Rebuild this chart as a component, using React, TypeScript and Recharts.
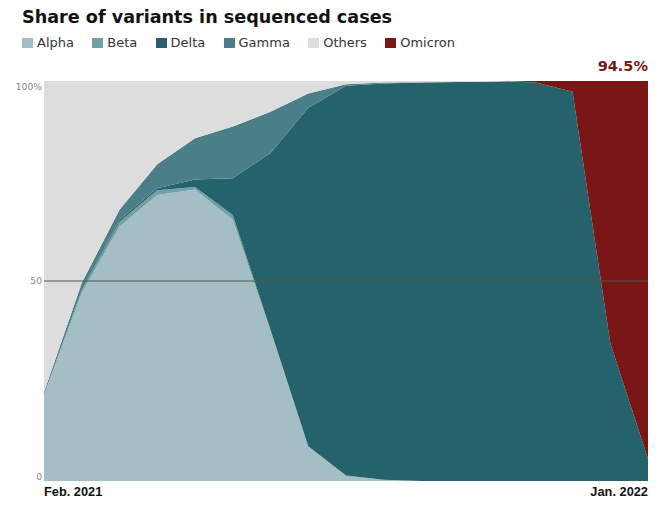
import { AreaChart, Area, XAxis, YAxis, ReferenceLine, LabelList } from 'recharts';

// one point every three weeks, Feb. 2021 -> Jan. 2022
const weeks = [
  '2021-02-01', '2021-02-22', '2021-03-15', '2021-04-05', '2021-04-26', '2021-05-17',
  '2021-06-07', '2021-06-28', '2021-07-19', '2021-08-09', '2021-08-30', '2021-09-20',
  '2021-10-11', '2021-11-01', '2021-11-22', '2021-12-13', '2022-01-03',
];

// share of sequenced cases, %
const alpha = [21.3, 47, 63.6, 71.5, 72.9, 65.3, 37.5, 8.6, 1.4, 0.3, 0, 0, 0, 0, 0, 0, 0];
const beta = [0.3, 0.6, 1.2, 1.2, 0.6, 1.2, 0.3, 0.1, 0, 0, 0, 0, 0, 0, 0, 0, 0];
const delta = [0, 0.1, 0.5, 0.5, 1.9, 9.2, 44.2, 84.6, 97.4, 99.1, 99.6, 99.75, 99.9, 99.7, 97.3, 34.5, 5.5];
const gamma = [0.6, 1.8, 2.5, 6, 10.3, 12.9, 10.3, 3.6, 0.4, 0.2, 0.1, 0, 0, 0, 0, 0, 0];
const others = [77.8, 50.5, 32.2, 20.8, 14.3, 11.4, 7.7, 3.1, 0.8, 0.4, 0.3, 0.25, 0.1, 0, 0, 0, 0];
const omicron = [0, 0, 0, 0, 0, 0, 0, 0, 0, 0, 0, 0, 0, 0.3, 2.7, 65.5, 94.5];

const xTickLabels = ['Feb. 2021', 'Jan. 2022'];
const yTicks = [0, 0.5, 1];
const yTickLabels = ['0', '50', '100%'];

const series = [
  { key: 'Alpha', values: alpha, color: '#a3bfc3' },
  { key: 'Beta', values: beta, color: '#72a0a6' },
  { key: 'Delta', values: delta, color: '#26626b' },
  { key: 'Gamma', values: gamma, color: '#4a7f87' },
  { key: 'Others', values: others, color: '#dddddd' },
  { key: 'Omicron', values: omicron, color: '#7a1716' },
];

const data = weeks.map((week, i) => {
  const row: Record<string, string | number> = { week };
  series.forEach((s) => {
    row[s.key] = s.values[i];
  });
  return row;
});

const FONT = '"DejaVu Sans", sans-serif';

const XTick = (props: any) => {
  const { x, y, payload } = props;
  const first = payload.value === weeks[0];
  return (
    <text
      x={x}
      y={y + 15}
      textAnchor={first ? 'start' : 'end'}
      fontFamily='"Liberation Sans", Arial, sans-serif'
      fontWeight="bold"
      fontSize={12.8}
      fill="#111"
    >
      {first ? xTickLabels[0] : xTickLabels[1]}
    </text>
  );
};

const YTick = (props: any) => {
  const { x, y, payload } = props;
  const i = yTicks.indexOf(payload.value);
  const dy = payload.value === 1 ? 9 : payload.value === 0 ? -1 : 3.3;
  return (
    <text x={x} y={y + dy} textAnchor="end" fontFamily={FONT} fontSize={9.2} fill="#888">
      {yTickLabels[i]}
    </text>
  );
};

const LastLabel = (props: any) => {
  const { x, y, index } = props;
  if (index !== omicron.length - 1) return null;
  return (
    <text x={x} y={y - 10} textAnchor="end" fontFamily={FONT} fontWeight="bold" fontSize={14.5} fill="#7a1716">
      {omicron[index]}%
    </text>
  );
};

export default function App() {
  return (
    <div style={{ position: 'absolute', left: 0, top: 0, width: 659, height: 506, background: '#fff', fontFamily: FONT }}>
      <div
        style={{
          position: 'absolute',
          left: 22,
          top: 9,
          fontSize: 17.6,
          lineHeight: '17.6px',
          fontWeight: 'bold',
          color: '#111',
          whiteSpace: 'nowrap',
        }}
      >
        Share of variants in sequenced cases
      </div>
      <div style={{ position: 'absolute', left: 22, top: 36, display: 'flex', alignItems: 'center' }}>
        {series.map((s) => (
          <div key={s.key} style={{ display: 'flex', alignItems: 'center', marginRight: 18.3 }}>
            <span style={{ width: 11, height: 10, background: s.color, marginRight: 4, display: 'inline-block' }} />
            <span style={{ fontSize: 13, lineHeight: '13px', color: '#333' }}>{s.key}</span>
          </div>
        ))}
      </div>
      <AreaChart
        width={659}
        height={506}
        data={data}
        stackOffset="expand"
        margin={{ top: 81, right: 11, left: 4, bottom: 0 }}
      >
        <XAxis
          dataKey="week"
          ticks={[weeks[0], weeks[weeks.length - 1]]}
          interval={0}
          tick={<XTick />}
          tickLine={false}
          axisLine={false}
          tickSize={0}
          tickMargin={0}
          height={25}
        />
        <YAxis
          domain={[0, 1]}
          ticks={yTicks}
          tick={<YTick />}
          tickLine={false}
          axisLine={false}
          tickSize={0}
          tickMargin={2}
          width={40}
        />
        {series.map((s) => (
          <Area
            key={s.key}
            type="linear"
            dataKey={s.key}
            stackId="1"
            stroke="none"
            fill={s.color}
            fillOpacity={1}
            isAnimationActive={false}
          >
            {s.key === 'Omicron' && <LabelList dataKey="Omicron" content={<LastLabel />} />}
          </Area>
        ))}
        <ReferenceLine y={0.5} stroke="#555" strokeWidth={1} />
      </AreaChart>
    </div>
  );
}
